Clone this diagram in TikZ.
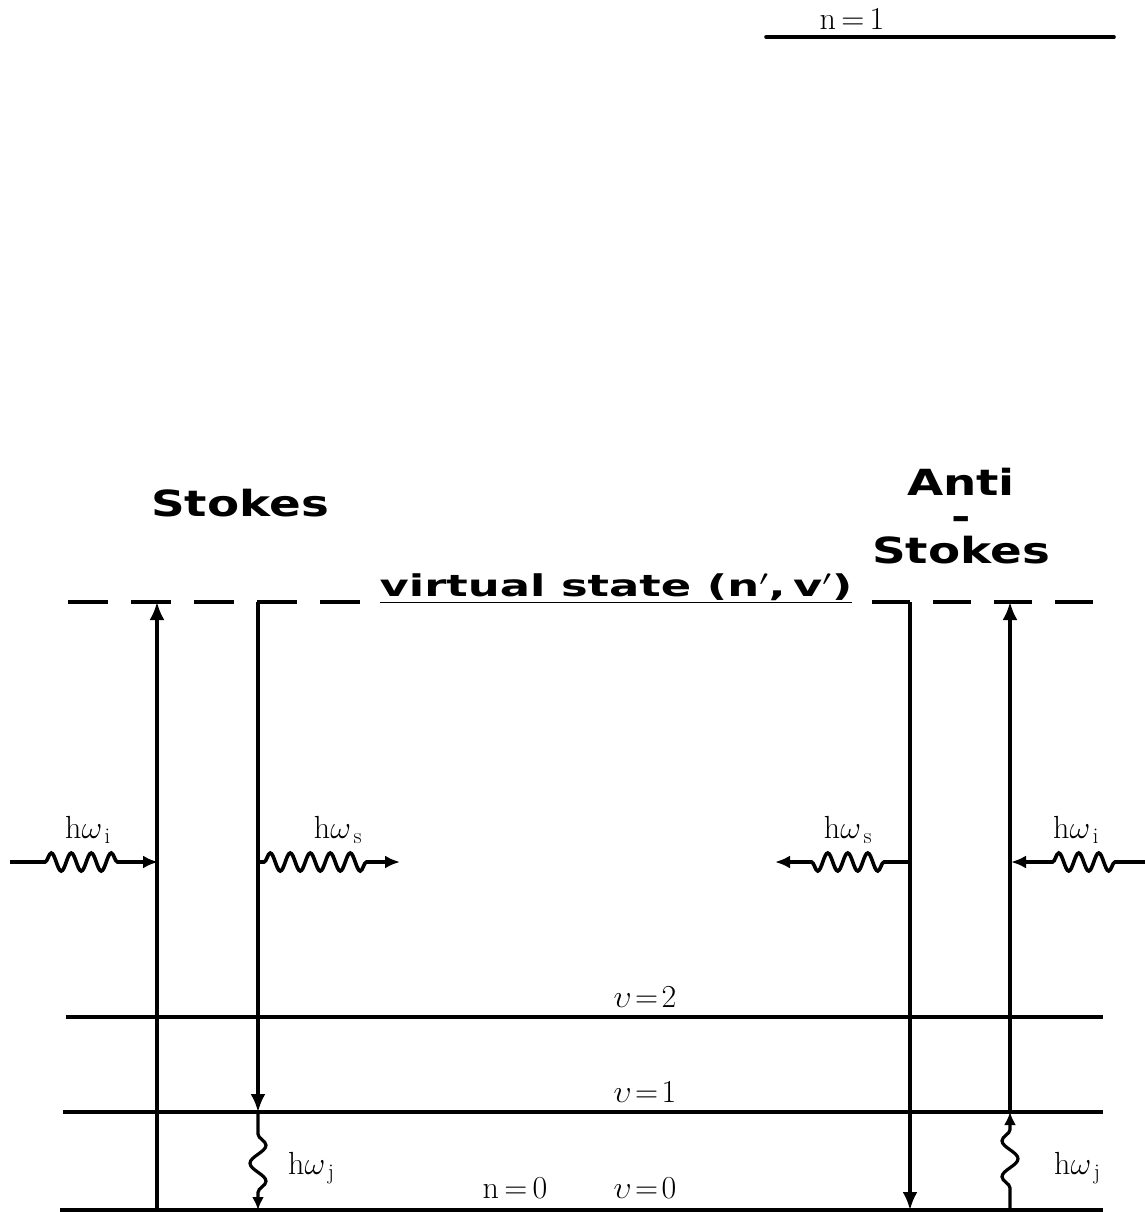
\documentclass[tikz,border=0pt]{standalone}
\usepackage{fix-cm}
\usepackage{fontspec}
\newfontfamily\titlefont{DejaVu Sans}
\usetikzlibrary{arrows.meta,decorations.pathmorphing}
\begin{document}
\begin{tikzpicture}[x=1pt,y=-1pt,
  level/.style={line width=3.6pt},
  trans/.style={line width=3.2pt,-{Latex[length=18pt,width=15pt]}},
  photon/.style={line width=3.6pt,-{Latex[length=15pt,width=13pt]},decorate,
     decoration={snake,amplitude=9pt,segment length=20pt,pre length=#1,post length=32pt}},
  photon/.default=35pt,
  vib/.style={line width=3.2pt,-{Latex[length=13pt,width=12pt]},decorate,
     decoration={snake,amplitude=8pt,segment length=36pt,pre length=22pt,post length=14pt}},
  lab/.style={font=\fontsize{32}{34}\selectfont,inner sep=0pt},
  title/.style={font=\titlefont\bfseries\fontsize{36}{34}\selectfont,inner sep=0pt,xscale=1.3}
]
\useasboundingbox (0,0) rectangle (1145,1212);
% n=1 level
\coordinate (n1L) at (766,37); \coordinate (n1R) at (1114,37);
\draw[level,line cap=round] (n1L) -- (n1R);
\node[lab] (n1lab) at (852,19) {n\,=\,1};
% titles
\node[title] (stokes) at (240,503) {Stokes};
\node[title,align=center] (antistokes) at (961,516) {Anti\\-\\Stokes};
% virtual state
\coordinate (vsL) at (68,602); \coordinate (vsLe) at (365,602);
\coordinate (vsRs) at (872,602); \coordinate (vsR) at (1100,602);
\draw[level,dash pattern=on 40pt off 23pt] (vsL) -- (vsLe);
\draw[level,dash pattern=on 38pt off 23pt] (vsRs) -- (vsR);
\node[title,font=\titlefont\bfseries\fontsize{30}{32}\selectfont,xscale=1.15] (vstext) at (616,588) {\underline{virtual state (n$'$,\,v$'$)}};
% vibrational levels
\coordinate (v2L) at (66,1017); \coordinate (v2R) at (1103,1017);
\coordinate (v1L) at (63,1112); \coordinate (v1R) at (1103,1112);
\coordinate (v0L) at (60,1210); \coordinate (v0R) at (1103,1210);
\draw[level] (v2L) -- (v2R);
\draw[level] (v1L) -- (v1R);
\draw[level] (v0L) -- (v0R);
\node[lab] (v2lab) at (645,997) {$\upsilon\!=\!2$};
\node[lab] (v1lab) at (645,1092) {$\upsilon\!=\!1$};
\node[lab] (v0lab) at (645,1188) {$\upsilon\!=\!0$};
\node[lab] (n0lab) at (515,1188) {n\,=\,0};
% Stokes transitions
\coordinate (sa0) at (157,1210); \coordinate (sa1) at (157,602);
\coordinate (sb0) at (258,602); \coordinate (sb1) at (258,1112); \coordinate (sb2) at (258,1210);
\draw[trans] (sa0) -- (sa1);
\draw[trans] (sb0) -- (sb1);
\draw[vib] (sb1) -- (sb2);
\node[lab,anchor=west] (hwj1) at (288,1168) {h$\omega_{\,\mathrm{j}}$};
% Anti-Stokes transitions
\coordinate (aa0) at (910,602); \coordinate (aa1) at (910,1210);
\coordinate (ab0) at (1010,1210); \coordinate (ab1) at (1010,1112); \coordinate (ab2) at (1010,602);
\draw[trans] (aa0) -- (aa1);
\draw[vib] (ab0) -- (ab1);
\draw[trans] (ab1) -- (ab2);
\node[lab,anchor=west] (hwj2) at (1054,1168) {h$\omega_{\,\mathrm{j}}$};
% photons
\coordinate (pi1) at (10,862); \coordinate (pi1e) at (158,862);
\coordinate (ps1) at (259,862); \coordinate (ps1e) at (400,862);
\coordinate (ps2) at (909,862); \coordinate (ps2e) at (775,862);
\coordinate (pi2) at (1145,862); \coordinate (pi2e) at (1011,862);
\draw[photon=35pt] (pi1) -- (pi1e);
\draw[photon=5pt] (ps1) -- (ps1e);
\draw[photon=25pt] (ps2) -- (ps2e);
\draw[photon=30pt] (pi2) -- (pi2e);
\node[lab] (hwi1) at (88,830) {h$\omega_{\,\mathrm{i}}$};
\node[lab] (hws1) at (338,830) {h$\omega_{\,\mathrm{s}}$};
\node[lab] (hws2) at (848,830) {h$\omega_{\,\mathrm{s}}$};
\node[lab] (hwi2) at (1076,830) {h$\omega_{\,\mathrm{i}}$};
\end{tikzpicture}
\end{document}
